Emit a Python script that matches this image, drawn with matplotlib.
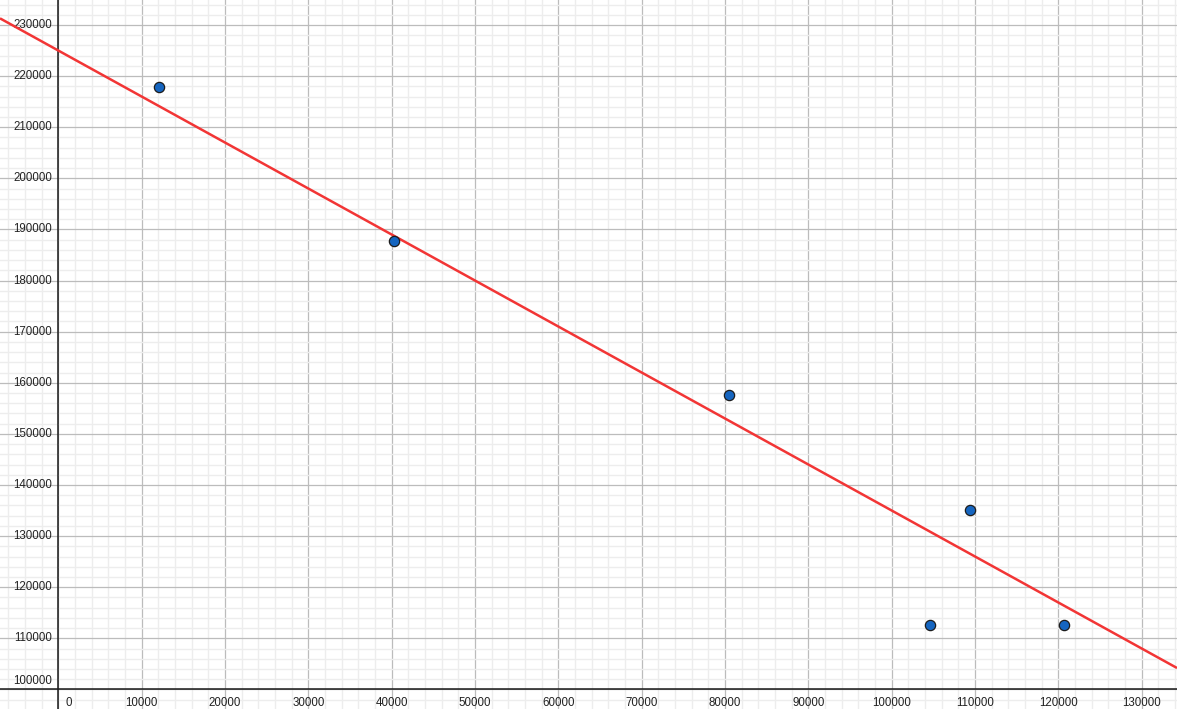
import numpy as np
import matplotlib
matplotlib.use("Agg")
import matplotlib.pyplot as plt

# data
point_x = [12100, 40300, 80500, 104600, 109400, 120700]
point_y = [217900, 187700, 157700, 112700, 135200, 112700]

# trend line y = intercept + slope * x
line_intercept = 225000
line_slope = -0.90

x_tick_values = list(range(0, 130001, 10000))
x_tick_labels = [str(v) for v in x_tick_values]
y_tick_values = list(range(100000, 230001, 10000))
y_tick_labels = [str(v) for v in y_tick_values]

XMIN, XMAX = -7000, 134230
YMIN, YMAX = 96170, 234890

plt.rcParams['font.family'] = ['Liberation Sans', 'DejaVu Sans']

fig = plt.figure(figsize=(11.77, 7.09), dpi=100)
ax = fig.add_axes([0, 0, 1, 1])
for s in ax.spines.values():
    s.set_visible(False)

ax.set_xticks(np.arange(-6000, XMAX, 2000), minor=True)
ax.set_yticks(np.arange(96000, YMAX, 2000), minor=True)
ax.set_xticks(np.arange(0, XMAX, 10000))
ax.set_yticks(np.arange(100000, YMAX, 10000))
ax.set_xlim(XMIN, XMAX)
ax.set_ylim(YMIN, YMAX)
ax.grid(which='minor', color='#ededed', linewidth=1.0)
ax.grid(which='major', color='#bcbcbc', linewidth=0.9)
ax.set_axisbelow(True)
ax.tick_params(which='both', length=0, labelbottom=False, labelleft=False)

# axes
ax.axvline(0, color='#1a1a1a', linewidth=1.1, zorder=2)
ax.axhline(100000, color='#1a1a1a', linewidth=1.1, zorder=2)

# tick labels
for v, lab in zip(x_tick_values, x_tick_labels):
    if v == 0:
        ax.annotate(lab, (v, 100000), xytext=(5, -5.5), textcoords='offset points',
                    ha='left', va='top', fontsize=8.3, color='#222222')
    else:
        ax.annotate(lab, (v, 100000), xytext=(0, -5.5), textcoords='offset points',
                    ha='center', va='top', fontsize=8.3, color='#222222')
for v, lab in zip(y_tick_values, y_tick_labels):
    if v == 100000:
        ax.annotate(lab, (0, v), xytext=(-4.5, 2), textcoords='offset points',
                    ha='right', va='bottom', fontsize=8.3, color='#222222')
    else:
        ax.annotate(lab, (0, v), xytext=(-4.5, 0), textcoords='offset points',
                    ha='right', va='center', fontsize=8.3, color='#222222')

# trend line
lx = np.array([XMIN, XMAX])
ax.plot(lx, line_intercept + line_slope * lx, color='#f23535', linewidth=1.8,
        solid_capstyle='butt', zorder=3)

# points
ax.plot(point_x, point_y, linestyle='none', marker='o', markersize=7.4,
        markerfacecolor='#1565c0', markeredgecolor='#1c1c1c', markeredgewidth=0.9,
        zorder=4)

fig.savefig('out.png', dpi=100)
